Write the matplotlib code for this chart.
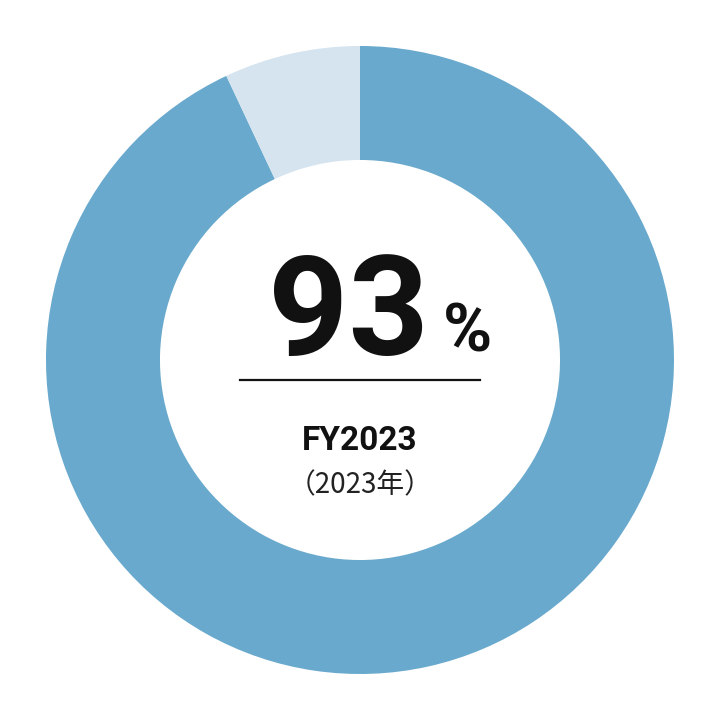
"""Donut chart: share for FY2023."""

import matplotlib.pyplot as plt

LABELS = ["達成", "未達"]
VALUES = [93, 7]
COLORS = ["#69a9cd", "#d5e4ef"]
MAIN_VALUE = "93"
YEAR_LABEL = "FY2023"
YEAR_SUB = "（2023年）"

plt.rcParams["font.family"] = ["Roboto", "Noto Sans CJK JP", "DejaVu Sans"]


def main() -> None:
    fig = plt.figure(figsize=(7.2, 7.2), dpi=100)
    ax = fig.add_axes([0, 0, 1, 1])
    ax.pie(
        VALUES,
        colors=COLORS,
        startangle=90,
        counterclock=False,
        radius=1.0,
        wedgeprops=dict(width=0.363, edgecolor="none"),
    )
    lim = 360 / 314
    ax.set_xlim(-lim, lim)
    ax.set_ylim(-lim, lim)
    ax.set_aspect("equal")
    ax.axis("off")

    px = 1 / 314  # data units per pixel
    ax.text(-12 * px, 5 * px, MAIN_VALUE, fontsize=101, fontweight="bold",
            ha="center", va="baseline", color="#111111")
    ax.text(107 * px, 8 * px, "%", fontsize=48, fontweight="bold",
            ha="center", va="baseline", color="#111111")
    ax.plot([-120 * px, 120 * px], [-20 * px, -20 * px], color="#111111", lw=1.6)
    ax.text(0, -90 * px, YEAR_LABEL, fontsize=24, fontweight="bold",
            ha="center", va="baseline", color="#111111")
    ax.text(0, -133 * px, YEAR_SUB, fontsize=20,
            family=["Noto Sans CJK JP", "DejaVu Sans"],
            ha="center", va="baseline", color="#222222")

    fig.savefig("out.png", dpi=100)
    plt.close(fig)


if __name__ == "__main__":
    main()
